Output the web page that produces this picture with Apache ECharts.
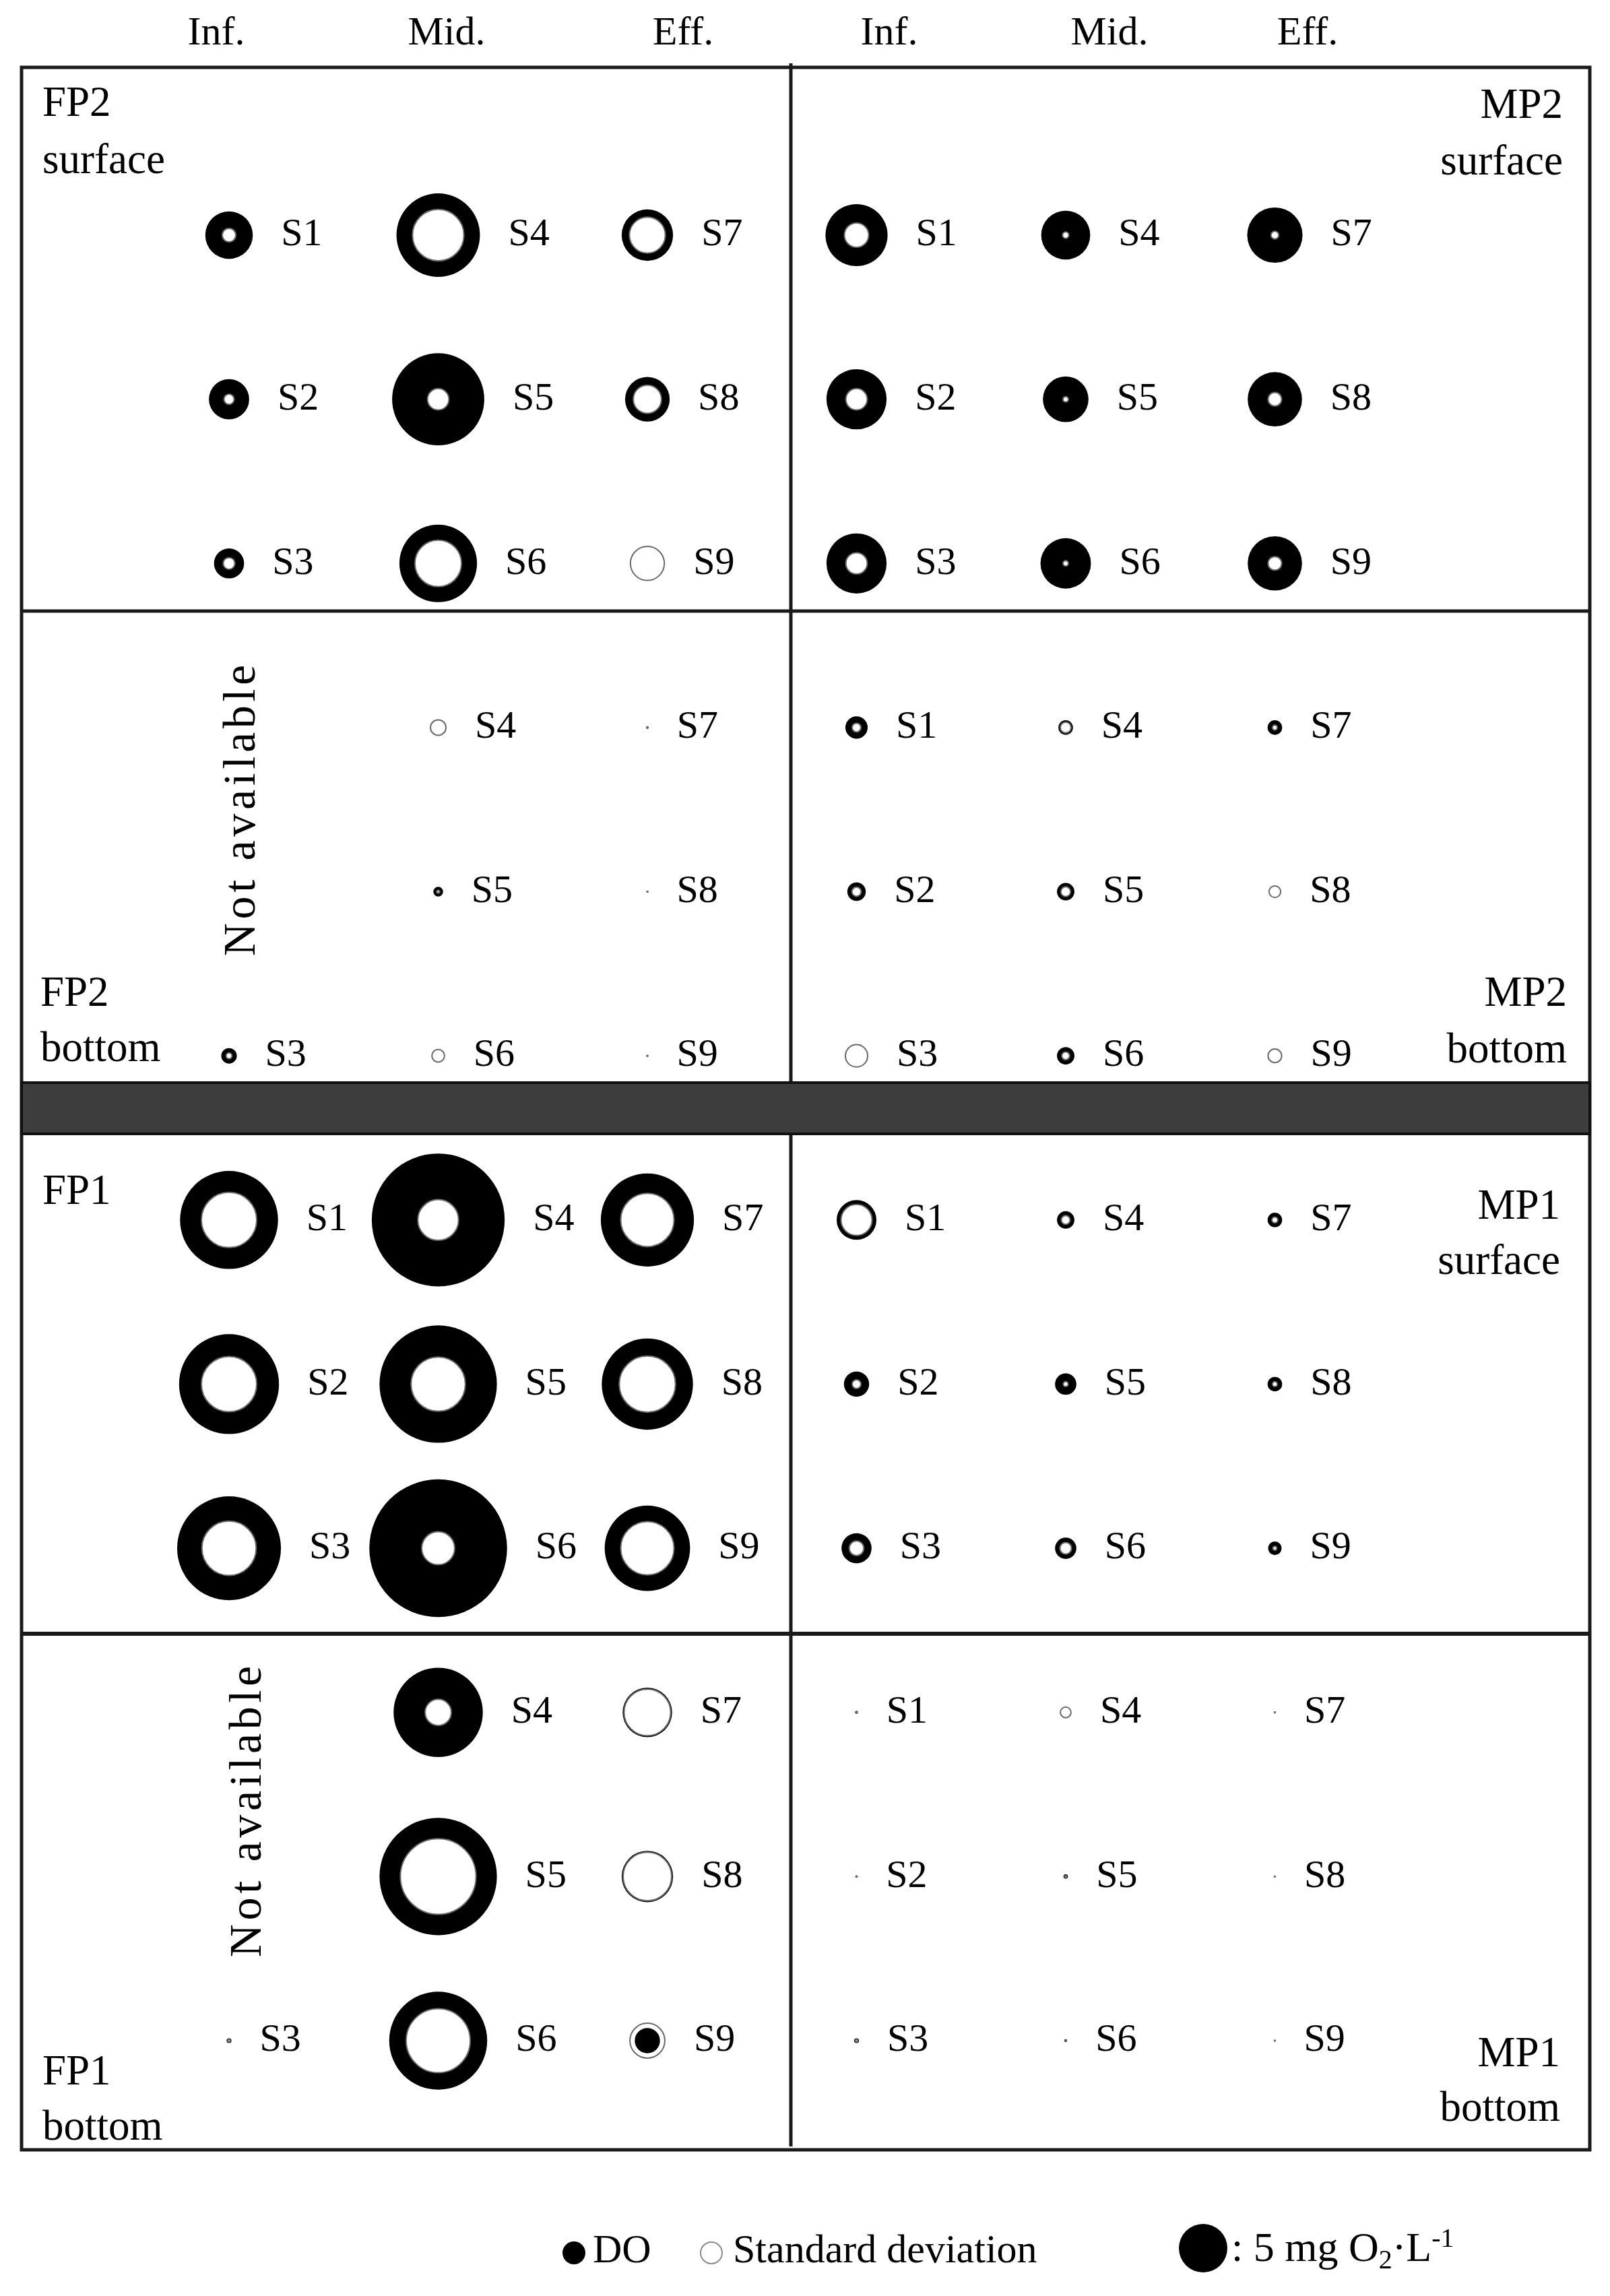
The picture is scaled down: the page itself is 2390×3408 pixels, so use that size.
<!DOCTYPE html>
<html>
<head>
<meta charset="utf-8">
<title>Dissolved oxygen by site</title>
<script src="https://cdn.jsdelivr.net/npm/echarts@6.0.0/dist/echarts.min.js"></script>
<style>
  html, body { margin: 0; padding: 0; background: #fff; }
  #chart { width: 2390px; height: 3408px; }
</style>
</head>
<body>
<div id="chart"></div>
<script>
/* ------------------------------------------------------------------ */
/*                              Data                                  */
/* ------------------------------------------------------------------ */
var sites = ['S1', 'S2', 'S3', 'S4', 'S5', 'S6', 'S7', 'S8', 'S9'];
var headerLabels = ['Inf.', 'Mid.', 'Eff.', 'Inf.', 'Mid.', 'Eff.'];

// DO mean and standard deviation (mg O2/L), S1..S9, null = not available
var fp2SurfaceDO = [4.9, 4.15, 3.1, 8.6, 9.5, 8.0, 5.3, 4.6, 0];
var fp2SurfaceSD = [1.4, 1.05, 1.2, 5.3, 2.2, 4.8, 3.7, 2.9, 3.5];
var fp2BottomDO = [null, null, 1.6, 0, 1.0, 0, 0.25, 0.2, 0.2];
var fp2BottomSD = [null, null, 0.6, 1.6, 0.3, 1.3, 0.1, 0.1, 0.1];

var mp2SurfaceDO = [6.4, 6.2, 6.2, 5.05, 4.7, 5.2, 5.7, 5.6, 5.6];
var mp2SurfaceSD = [2.5, 2.2, 2.2, 0.65, 0.55, 0.55, 0.8, 1.4, 1.4];
var mp2BottomDO = [2.3, 1.9, 0, 1.5, 1.8, 1.8, 1.5, 0, 0];
var mp2BottomSD = [0.9, 0.95, 2.3, 1.1, 1.0, 0.8, 0.5, 1.2, 1.4];

var fp1SurfaceDO = [10.1, 10.3, 10.7, 13.7, 12.1, 14.2, 9.6, 9.4, 8.8];
var fp1SurfaceSD = [5.7, 5.7, 5.6, 4.2, 5.6, 3.4, 5.5, 5.8, 5.5];
var fp1BottomDO = [null, null, 0.5, 9.2, 12.1, 10.1, 5.1, 5.3, 2.6];
var fp1BottomSD = [null, null, 0.25, 2.7, 7.8, 6.6, 4.8, 5.0, 3.6];

var mp1SurfaceDO = [4.1, 2.6, 3.1, 1.8, 2.2, 2.2, 1.5, 1.5, 1.4];
var mp1SurfaceSD = [3.2, 0.9, 1.5, 0.9, 0.5, 1.2, 0.6, 0.5, 0.4];
var mp1BottomDO = [0.3, 0.25, 0.5, 0, 0.45, 0.3, 0.2, 0.2, 0.15];
var mp1BottomSD = [0.1, 0.1, 0.25, 1.1, 0.2, 0.1, 0.1, 0.1, 0.1];

/* ------------------------------------------------------------------ */
/*                              Chart                                 */
/* ------------------------------------------------------------------ */
var PX_PER_MG = 72 / 5; // legend disc: 5 mg O2/L
var FONT = '"Liberation Serif", "DejaVu Serif", serif';

// panel placement in the site grid (columns 0..5, rows 0..11)
var panels = [
  { doVals: fp2SurfaceDO, sdVals: fp2SurfaceSD, col: 0, row: 0 },
  { doVals: fp2BottomDO, sdVals: fp2BottomSD, col: 0, row: 3 },
  { doVals: mp2SurfaceDO, sdVals: mp2SurfaceSD, col: 3, row: 0 },
  { doVals: mp2BottomDO, sdVals: mp2BottomSD, col: 3, row: 3 },
  { doVals: fp1SurfaceDO, sdVals: fp1SurfaceSD, col: 0, row: 6 },
  { doVals: fp1BottomDO, sdVals: fp1BottomSD, col: 0, row: 9 },
  { doVals: mp1SurfaceDO, sdVals: mp1SurfaceSD, col: 3, row: 6 },
  { doVals: mp1BottomDO, sdVals: mp1BottomSD, col: 3, row: 9 }
];

var items = [];
panels.forEach(function (p) {
  sites.forEach(function (site, i) {
    var d = p.doVals[i], s = p.sdVals[i];
    if (d === null) return;
    var cx = p.col + Math.floor(i / 3);
    var cy = p.row + (i % 3);
    var labelOnDO = d >= s;
    items.push({
      name: site,
      value: [cx, cy, d],
      itemStyle: { color: '#000', borderWidth: 0, opacity: 1 },
      label: { show: labelOnDO }
    });
    items.push({
      name: site,
      value: [cx, cy, s],
      itemStyle: { color: '#fff', borderColor: '#6a6a6a', borderWidth: 2, opacity: 1 },
      label: { show: !labelOnDO }
    });
  });
});
// larger circles first, so the smaller one of each pair sits on top
items.sort(function (a, b) { return b.value[2] - a.value[2]; });

function txt(text, x, y, size, align, extra) {
  var el = {
    type: 'text', x: x, y: y, z: 5,
    style: {
      text: text, font: size + 'px ' + FONT, fill: '#000',
      align: align, verticalAlign: 'middle',
      textAlign: align, textVerticalAlign: 'middle'
    }
  };
  if (extra) Object.keys(extra).forEach(function (k) { el[k] = extra[k]; });
  return el;
}
function hline(y, w) {
  return { type: 'line', z: 1, shape: { x1: 32, y1: y, x2: 2360, y2: y },
    style: { stroke: '#1a1a1a', lineWidth: w } };
}

var headerX = [321, 663, 1014, 1320, 1647, 1941];
var graphics = [
  { type: 'rect', z: 1, shape: { x: 32, y: 100, width: 2328, height: 3091 },
    style: { fill: 'none', stroke: '#1a1a1a', lineWidth: 5 } },
  { type: 'line', z: 1, shape: { x1: 1174, y1: 94, x2: 1174, y2: 3186 },
    style: { stroke: '#1a1a1a', lineWidth: 5 } },
  hline(907, 5),
  hline(2425, 6),
  { type: 'rect', z: 2, shape: { x: 32, y: 1607, width: 2328, height: 76 },
    style: { fill: '#3d3d3d', stroke: '#111', lineWidth: 4 } },

  txt('FP2', 63, 155, 63, 'left'),
  txt('surface', 63, 240, 63, 'left'),
  txt('MP2', 2320, 158, 63, 'right'),
  txt('surface', 2320, 242, 63, 'right'),
  txt('FP2', 60, 1476, 63, 'left'),
  txt('bottom', 60, 1558, 63, 'left'),
  txt('MP2', 2326, 1476, 63, 'right'),
  txt('bottom', 2326, 1560, 63, 'right'),
  txt('FP1', 63, 1770, 63, 'left'),
  txt('MP1', 2316, 1792, 63, 'right'),
  txt('surface', 2316, 1874, 63, 'right'),
  txt('FP1', 63, 3077, 63, 'left'),
  txt('bottom', 63, 3159, 63, 'left'),
  txt('MP1', 2316, 3050, 63, 'right'),
  txt('bottom', 2316, 3131, 63, 'right'),

  txt('N\u200Ao\u200At \u200A\u200Aa\u200Av\u200Aa\u200Ai\u200Al\u200Aa\u200Ab\u200Al\u200Ae',
      360, 1203, 68, 'center', { rotation: Math.PI / 2 }),
  txt('N\u200Ao\u200At \u200A\u200Aa\u200Av\u200Aa\u200Ai\u200Al\u200Aa\u200Ab\u200Al\u200Ae',
      369, 2689, 68, 'center', { rotation: Math.PI / 2 }),

  // legend
  { type: 'circle', z: 5, shape: { cx: 852, cy: 3344, r: 17 }, style: { fill: '#000' } },
  txt('DO', 880, 3342, 60, 'left'),
  { type: 'circle', z: 5, shape: { cx: 1056, cy: 3344, r: 16 },
    style: { fill: '#fff', stroke: '#8a8a8a', lineWidth: 2 } },
  txt('Standard deviation', 1088, 3342, 60, 'left'),
  { type: 'circle', z: 5, shape: { cx: 1786, cy: 3337, r: 5 * PX_PER_MG / 2 }, style: { fill: '#000' } },
  {
    type: 'text', x: 1828, y: 3340, z: 5,
    style: {
      text: '{n|: 5 mg O}{sub|2}{n|\u00B7L}{sup|-1}',
      align: 'left', verticalAlign: 'middle',
      textAlign: 'left', textVerticalAlign: 'middle',
      rich: {
        n: { font: '62px ' + FONT, fill: '#000', lineHeight: 72 },
        sub: { font: '40px ' + FONT, fill: '#000', lineHeight: 40, verticalAlign: 'bottom' },
        sup: { font: '40px ' + FONT, fill: '#000', lineHeight: 40, verticalAlign: 'top' }
      }
    }
  }
];
headerLabels.forEach(function (h, i) {
  graphics.push(txt(h, headerX[i], 50, 60, 'center'));
});

var chartDom = document.getElementById('chart');
var myChart = echarts.init(chartDom);
var option = {
  animation: false,
  backgroundColor: '#fff',
  grid: { left: 340, top: 349, width: 1552.5, height: 2680 },
  xAxis: { type: 'value', min: 0, max: 5, show: false },
  yAxis: { type: 'value', min: 0, max: 11, inverse: true, show: false },
  graphic: { elements: graphics },
  series: [{
    type: 'scatter',
    z: 3,
    symbol: 'circle',
    symbolSize: function (v) { return v[2] * PX_PER_MG; },
    itemStyle: { opacity: 1 },
    label: {
      position: 'right',
      distance: 42,
      formatter: '{b}',
      color: '#000',
      fontSize: 58,
      fontFamily: FONT
    },
    emphasis: { disabled: true },
    data: items
  }]
};
option && myChart.setOption(option);
</script>
</body>
</html>
